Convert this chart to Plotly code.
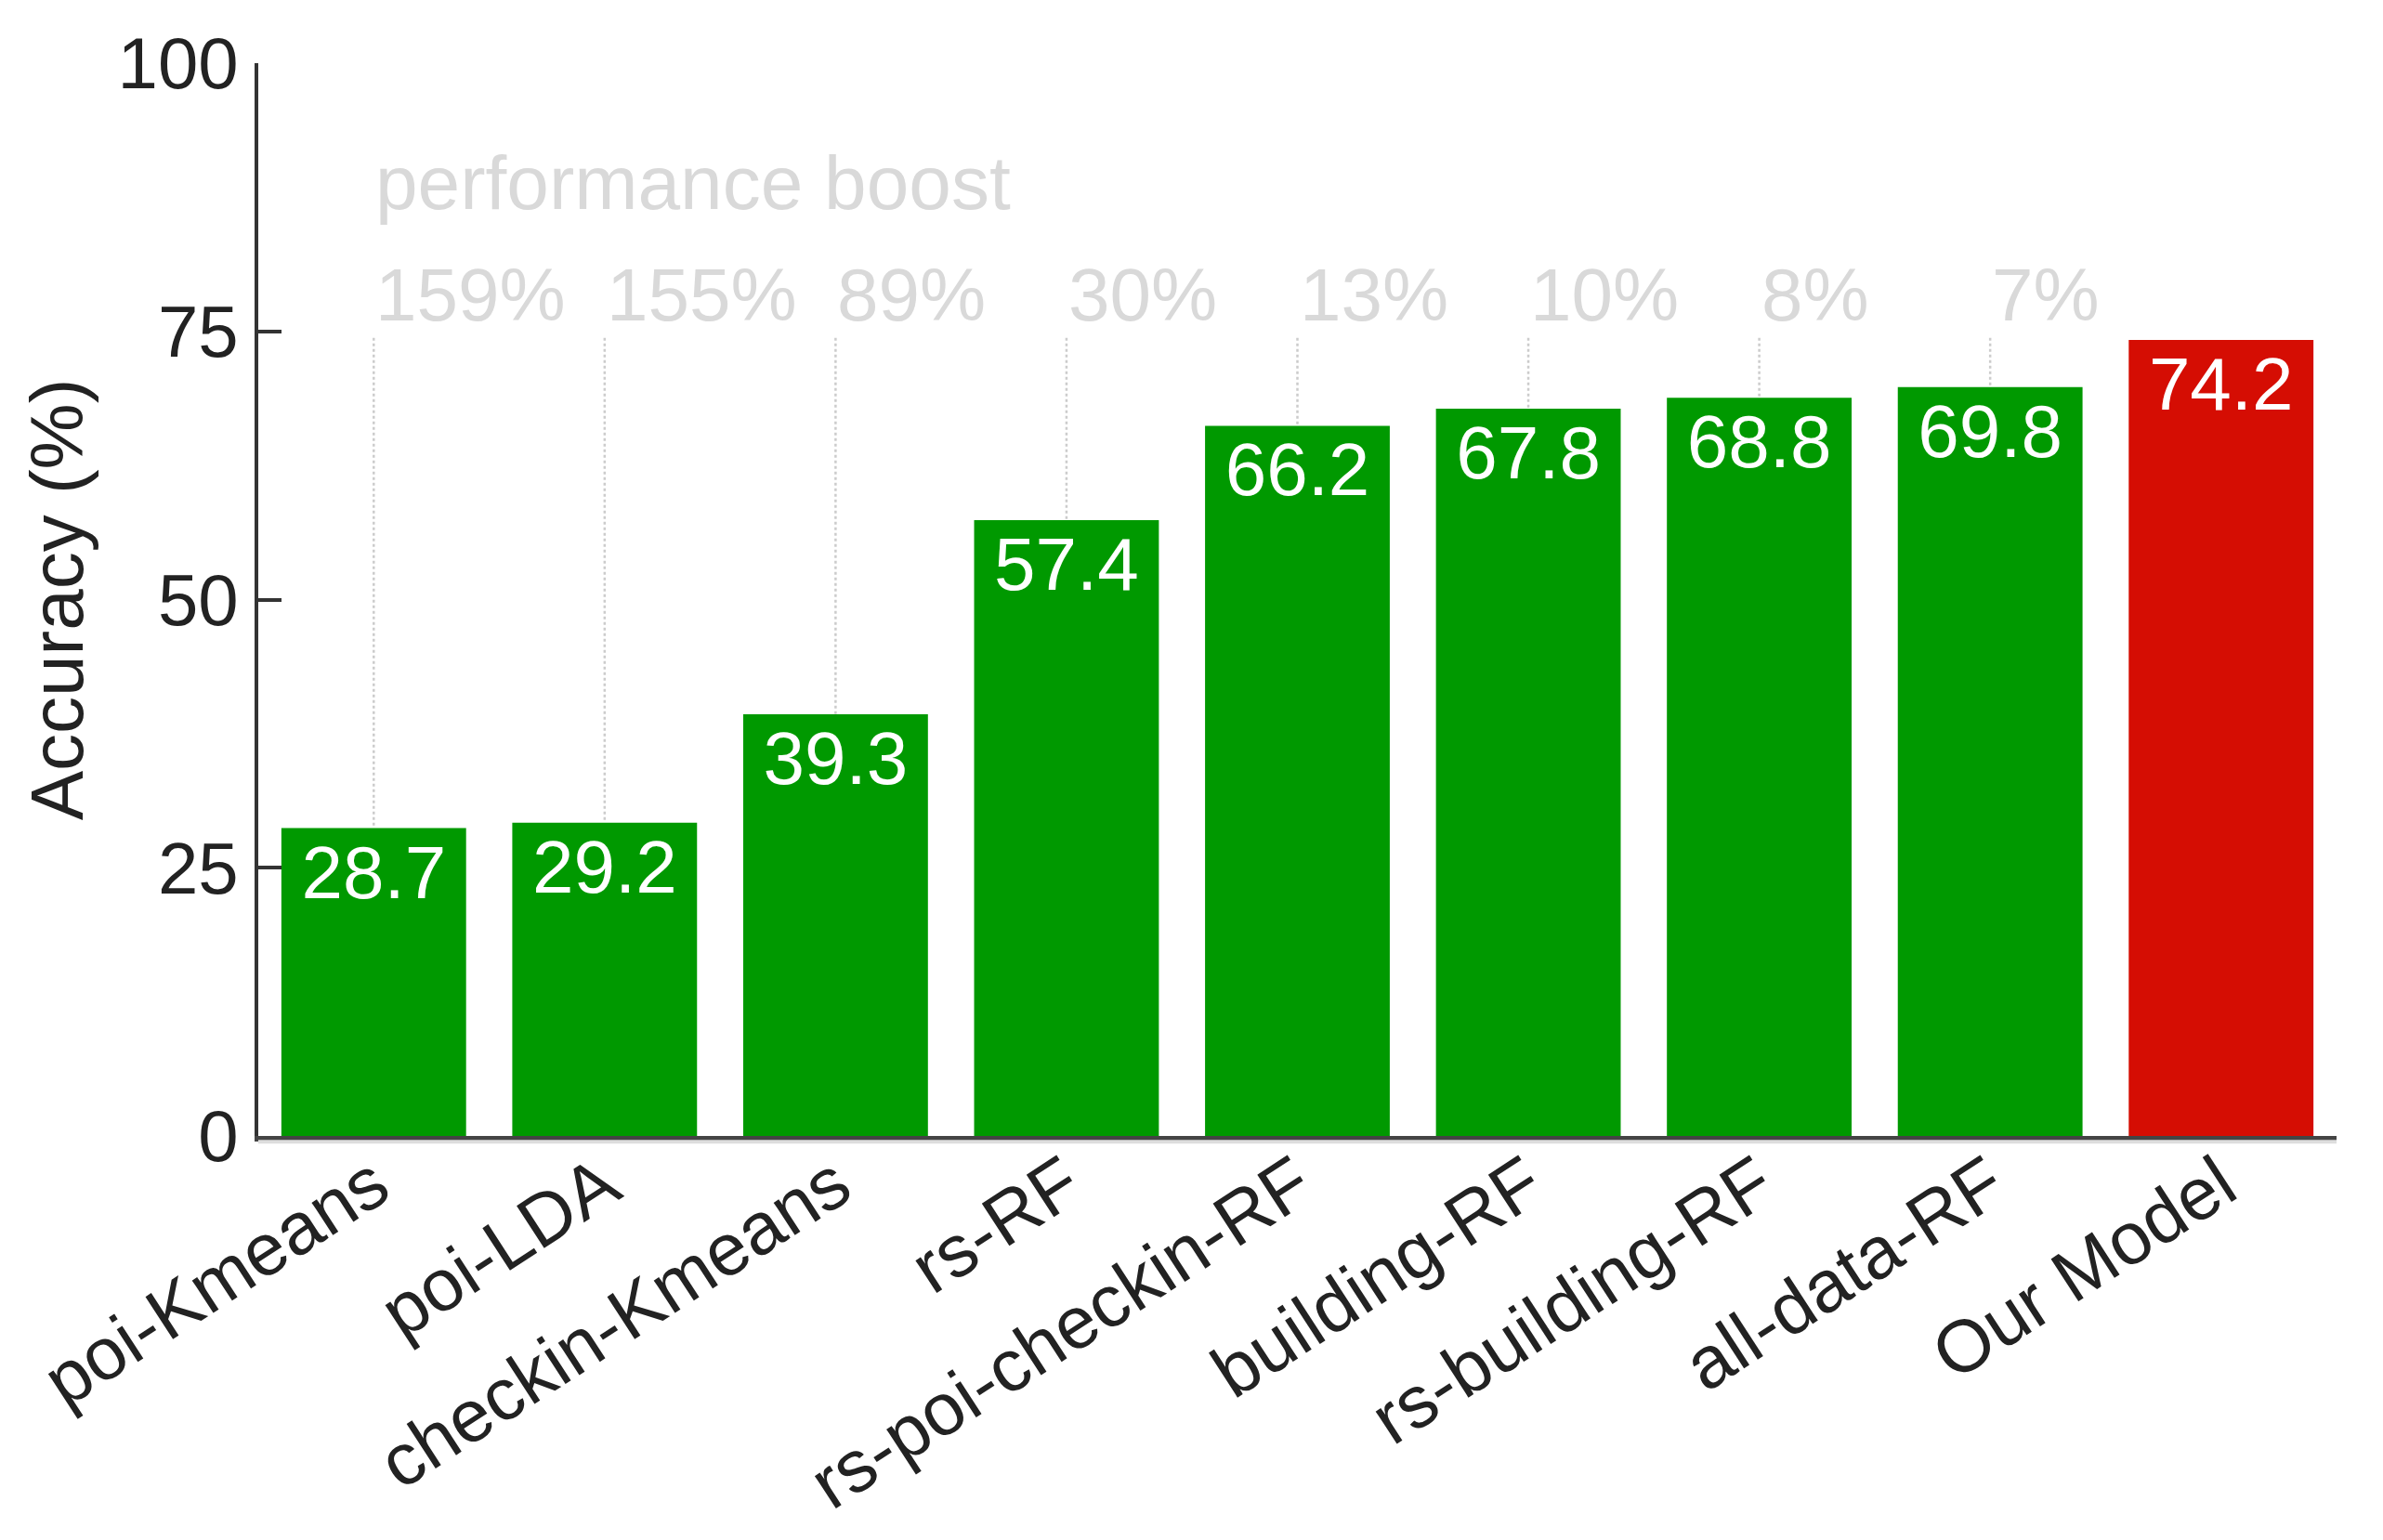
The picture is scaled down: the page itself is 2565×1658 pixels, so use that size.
import plotly.graph_objects as go

categories = ["poi-Kmeans", "poi-LDA", "checkin-Kmeans", "rs-RF", "rs-poi-checkin-RF",
              "building-RF", "rs-building-RF", "all-data-RF", "Our Model"]
accuracy = [28.7, 29.2, 39.3, 57.4, 66.2, 67.8, 68.8, 69.8, 74.2]
boost_labels = ["159%", "155%", "89%", "30%", "13%", "10%", "8%", "7%"]
boost_title = "performance boost"
y_ticks = [0, 25, 50, 75, 100]

GREEN = "#009900"
RED = "#d50d03"
LIGHT = "#d9d9d9"
FONT = "Liberation Sans"

BOOST_Y = 78.4
TITLE_Y = 88.9
DOT_TOP = 74.4

colors = [GREEN] * (len(categories) - 1) + [RED]

fig = go.Figure()

# dotted guide lines from boost labels down to bar tops
for cat, acc in zip(categories[:-1], accuracy[:-1]):
    fig.add_trace(go.Scatter(
        x=[cat, cat], y=[DOT_TOP, acc], mode="lines",
        line=dict(color="#cccccc", width=2.5, dash="dot"),
        hoverinfo="skip", showlegend=False,
    ))

fig.add_trace(go.Bar(
    x=categories, y=accuracy,
    marker=dict(color=colors, line=dict(width=0)),
    text=[f"{v:.1f}" for v in accuracy],
    textposition="inside", insidetextanchor="end",
    textfont=dict(family=FONT, size=80, color="white"),
    textangle=0, constraintext="none",
    showlegend=False,
))

annotations = []
for cat, lab in zip(categories[:-1], boost_labels):
    annotations.append(dict(
        x=cat, y=BOOST_Y, xref="x", yref="y", text=lab, showarrow=False,
        xanchor="left", yanchor="middle", xshift=0,
        font=dict(family=FONT, size=80, color=LIGHT),
    ))
annotations.append(dict(
    x=categories[0], y=TITLE_Y, xref="x", yref="y", text=boost_title, showarrow=False,
    xanchor="left", yanchor="middle", xshift=0,
    font=dict(family=FONT, size=82, color=LIGHT),
))

fig.update_layout(
    width=2565, height=1658, autosize=False,
    margin=dict(l=270, r=58, t=60, b=443, autoexpand=False),
    plot_bgcolor="white", paper_bgcolor="white",
    bargap=0.2,
    annotations=annotations,
    font=dict(family=FONT, color="#222"),
    shapes=[dict(type="line", xref="paper", yref="paper", x0=0, x1=1, y0=-0.0055, y1=-0.0055,
                 line=dict(color="#dddddd", width=4))],
)

fig.update_xaxes(
    type="category", range=[-0.5, len(categories) - 0.5],
    showline=True, linecolor="#444", linewidth=6,
    showgrid=False, ticks="", tickangle=-33,
    tickfont=dict(family=FONT, size=79, color="#222"),
    ticklabelstandoff=-30, automargin=False,
)
fig.update_yaxes(
    range=[0, 100], tickvals=y_ticks, ticktext=[str(t) for t in y_ticks],
    showline=True, linecolor="#333", linewidth=3.5,
    ticks="inside", ticklen=25, tickwidth=4, tickcolor="#333",
    showgrid=False, zeroline=False,
    tickfont=dict(family=FONT, size=78, color="#222"),
    ticklabelstandoff=2, automargin=False,
    title=dict(text="Accuracy (%)", font=dict(family=FONT, size=80, color="#222"), standoff=12),
)

fig.write_html("out.html")
